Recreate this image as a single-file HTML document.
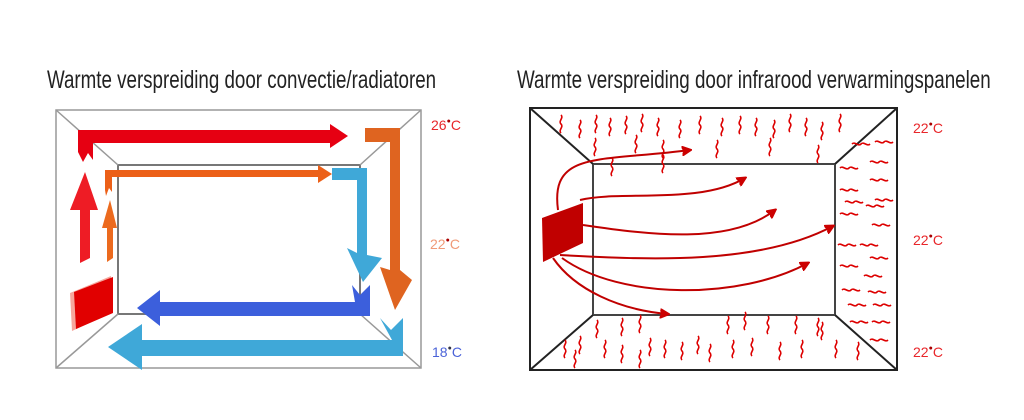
<!DOCTYPE html>
<html><head><meta charset="utf-8"><style>
html,body{margin:0;padding:0;background:#fff;}
body{width:1024px;height:420px;overflow:hidden;position:relative;font-family:"Liberation Sans",sans-serif;}
.t{position:absolute;font-size:25px;color:#222;white-space:nowrap;transform-origin:0 0;transform:scaleX(0.75);}
</style></head><body>
<div class="t" style="left:47px;top:66px;">Warmte verspreiding door convectie/radiatoren</div>
<div class="t" style="left:517px;top:66px;transform:scaleX(0.752);">Warmte verspreiding door infrarood verwarmingspanelen</div>
<svg width="1024" height="420" style="position:absolute;left:0;top:0" font-family="Liberation Sans, sans-serif">
<defs>
<path id="v" d="M0,0 c3,3 -3,6 0,9 c3,3 -3,6 0,9" fill="none" stroke="#d00" stroke-width="1.6"/>
<path id="h" d="M0,0 c3,-3 6,3 9,0 c3,-3 6,3 9,0" fill="none" stroke="#d00" stroke-width="1.6"/>
<marker id="ah" markerWidth="10" markerHeight="10" refX="8" refY="5" orient="auto" markerUnits="userSpaceOnUse"><path d="M0,0 L10,5 L0,10 L3,5z" fill="#c00" transform="scale(1.4) translate(-2,-1.4)"/></marker>
</defs>
<g stroke="#999" stroke-width="1.5" fill="none">
<rect x="56" y="110" width="365" height="258"/>
<rect x="118" y="165" width="242" height="149" stroke="#777" stroke-width="2"/>
<line x1="56" y1="110" x2="118" y2="165"/><line x1="421" y1="110" x2="360" y2="165"/>
<line x1="56" y1="368" x2="118" y2="314"/><line x1="421" y1="368" x2="360" y2="314"/>
</g>
<polygon fill="#e60012" points="78,130 330,130 330,124 348,136 330,148 330,143 93,143 93,160 88,153 83,162 78,152"/>
<polygon fill="#ee1c25" points="80,263 80,210 70,210 85,172 98,210 90,210 90,258"/>
<polygon fill="#ec6018" points="105,170 318,170 318,165 332,174 318,183 318,177 112,177 112,192 109,188 106,196 105,190"/>
<polygon fill="#ec6a1e" points="107,262 107,228 102,228 110,200 117,228 113,228 113,258"/>
<polygon fill="#f06a5a" points="70,293 111,276 111,313 72,331" opacity="0.6"/>
<polygon fill="#e10000" points="74,292 113,277 113,313 76,329"/>
<polygon fill="#df6420" points="365,128 400,128 400,270 412,280 395,310 380,267 390,270 390,142 365,142"/>
<polygon fill="#3fa8d8" points="332,168 367,168 367,255 382,258 363,282 347,248 357,253 357,180 332,180"/>
<polygon fill="#3c5fdc" points="370,285 370,316 160,316 160,326 137,308 160,290 160,302 355,302 352,285 360,295"/>
<polygon fill="#3fa8d8" points="403,318 403,356 142,356 142,370 108,347 142,324 142,340 392,340 380,318 391,330"/>
<g font-size="14">
<text x="431" y="130" fill="#e8262a">26<tspan font-size="7" dy="-7" fill="#a00">●</tspan><tspan dy="7">C</tspan></text>
<text x="430" y="249" fill="#f09a78">22<tspan font-size="7" dy="-7" fill="#a00">●</tspan><tspan dy="7">C</tspan></text>
<text x="432" y="357" fill="#4a62d8">18<tspan font-size="7" dy="-7" fill="#334">●</tspan><tspan dy="7">C</tspan></text>
</g>
<g stroke="#222" stroke-width="2" fill="none">
<rect x="530" y="108" width="367" height="262"/>
<rect x="593" y="164" width="242" height="151" stroke="#444"/>
<line x1="530" y1="108" x2="593" y2="164"/><line x1="897" y1="108" x2="835" y2="164"/>
<line x1="530" y1="370" x2="593" y2="315"/><line x1="897" y1="370" x2="835" y2="315"/>
</g>
<g>
<use href="#v" x="561" y="115"/><use href="#v" x="580" y="120"/><use href="#v" x="596" y="115"/><use href="#v" x="610" y="118"/><use href="#v" x="626" y="116"/><use href="#v" x="642" y="114"/><use href="#v" x="658" y="118"/><use href="#v" x="680" y="120"/><use href="#v" x="700" y="116"/><use href="#v" x="722" y="118"/><use href="#v" x="740" y="116"/><use href="#v" x="756" y="118"/><use href="#v" x="774" y="120"/><use href="#v" x="790" y="114"/><use href="#v" x="806" y="118"/><use href="#v" x="822" y="122"/><use href="#v" x="840" y="114"/>
<use href="#v" x="595" y="138"/><use href="#v" x="636" y="135"/><use href="#v" x="663" y="140"/><use href="#v" x="717" y="140"/><use href="#v" x="770" y="138"/><use href="#v" x="818" y="145"/><use href="#v" x="612" y="158"/><use href="#v" x="663" y="155"/>
<use href="#v" x="597" y="320"/><use href="#v" x="622" y="318"/><use href="#v" x="640" y="315"/><use href="#v" x="728" y="316"/><use href="#v" x="745" y="312"/><use href="#v" x="768" y="316"/><use href="#v" x="796" y="316"/><use href="#v" x="818" y="318"/><use href="#v" x="822" y="322"/>
<use href="#v" x="565" y="340"/><use href="#v" x="580" y="336"/><use href="#v" x="605" y="340"/><use href="#v" x="622" y="345"/><use href="#v" x="650" y="338"/><use href="#v" x="665" y="340"/><use href="#v" x="682" y="342"/><use href="#v" x="698" y="336"/><use href="#v" x="710" y="344"/><use href="#v" x="733" y="340"/><use href="#v" x="752" y="338"/><use href="#v" x="780" y="342"/><use href="#v" x="802" y="340"/><use href="#v" x="836" y="340"/><use href="#v" x="858" y="342"/><use href="#v" x="575" y="350"/><use href="#v" x="640" y="350"/>
<use href="#h" x="852" y="144"/><use href="#h" x="875" y="142"/><use href="#h" x="840" y="168"/><use href="#h" x="870" y="162"/><use href="#h" x="840" y="190"/><use href="#h" x="870" y="180"/><use href="#h" x="845" y="202"/><use href="#h" x="875" y="200"/><use href="#h" x="840" y="214"/><use href="#h" x="866" y="206"/><use href="#h" x="872" y="225"/><use href="#h" x="838" y="245"/><use href="#h" x="860" y="245"/><use href="#h" x="870" y="258"/><use href="#h" x="840" y="266"/><use href="#h" x="864" y="276"/><use href="#h" x="842" y="290"/><use href="#h" x="868" y="292"/><use href="#h" x="848" y="305"/><use href="#h" x="873" y="305"/><use href="#h" x="850" y="322"/><use href="#h" x="872" y="322"/><use href="#h" x="870" y="340"/>
</g>
<polygon fill="#c00000" points="542,218 583,203 583,243 543,262"/>
<g stroke="#c00000" stroke-width="2" fill="none" marker-end="url(#ah)">
<path d="M558,210 C550,150 600,162 690,150"/>
<path d="M580,200 C620,190 700,205 745,178"/>
<path d="M583,225 C650,235 730,245 775,210"/>
<path d="M560,255 C650,260 760,265 833,226"/>
<path d="M562,258 C620,300 740,300 808,263"/>
<path d="M553,258 C575,290 620,310 668,314"/>
</g>
<g font-size="14" fill="#e8262a">
<text x="913" y="133">22<tspan font-size="7" dy="-7" fill="#a00">●</tspan><tspan dy="7">C</tspan></text>
<text x="913" y="245">22<tspan font-size="7" dy="-7" fill="#a00">●</tspan><tspan dy="7">C</tspan></text>
<text x="913" y="357">22<tspan font-size="7" dy="-7" fill="#a00">●</tspan><tspan dy="7">C</tspan></text>
</g>
</svg>
</body></html>
